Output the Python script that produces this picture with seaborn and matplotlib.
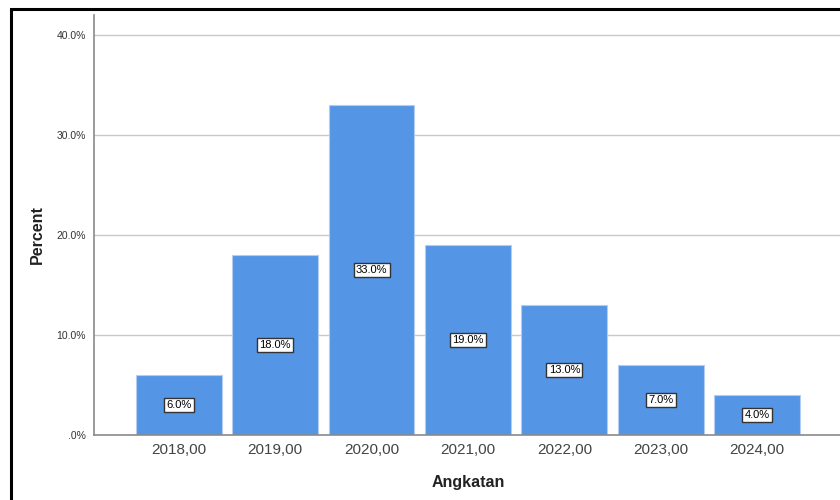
import matplotlib
matplotlib.use("Agg")
import matplotlib.pyplot as plt
import seaborn as sns
import pandas as pd
from matplotlib.patches import Rectangle
from matplotlib.ticker import FuncFormatter

# values
angkatan = ["2018,00", "2019,00", "2020,00", "2021,00", "2022,00", "2023,00", "2024,00"]
percent = [6.0, 18.0, 33.0, 19.0, 13.0, 7.0, 4.0]

df = pd.DataFrame({"Angkatan": angkatan, "Percent": percent})

sns.set_style("white")
plt.rcParams["font.family"] = ["Liberation Sans", "DejaVu Sans"]

fig = plt.figure(figsize=(8.4, 5.0), dpi=100)
ax = fig.add_axes([94 / 840, 1 - 435 / 500, 1 - 94 / 840, (435 - 15) / 500])

sns.barplot(data=df, x="Angkatan", y="Percent", color="#5595e5", saturation=1,
            width=0.89, edgecolor="#b3cdf0", linewidth=0.8, ax=ax, zorder=3)

ax.set_ylim(0, 42)
ax.set_xlim(-0.88, 6.86)
ax.set_yticks([0, 10, 20, 30, 40])
ax.yaxis.set_major_formatter(FuncFormatter(lambda v, p: ".0%" if v == 0 else f"{v:.1f}%"))
ax.grid(axis="y", color="#c8c8c8", linewidth=1, zorder=0)
ax.set_axisbelow(True)

for s in ["top", "right"]:
    ax.spines[s].set_visible(False)
for s in ["left", "bottom"]:
    ax.spines[s].set_color("#8a8a8a")
    ax.spines[s].set_linewidth(1.2)
    ax.spines[s].set_zorder(4)

ax.tick_params(axis="y", labelsize=7.5, labelcolor="#333333", length=0, pad=6)
ax.tick_params(axis="x", labelsize=11, labelcolor="#444444", length=0, pad=6)

for i, v in enumerate(percent):
    ax.text(i, v / 2, f"{v:.1f}%", ha="center", va="center", fontsize=8, color="black", zorder=5,
            bbox=dict(boxstyle="square,pad=0.2", facecolor="white", edgecolor="#333333", linewidth=1))

ax.set_xlabel("")
ax.set_ylabel("")
fig.text(468 / 840, 1 - 482 / 500, "Angkatan", ha="center", va="center",
         fontsize=11.5, fontweight="bold", color="#222222")
fig.text(37 / 840, 1 - 235 / 500, "Percent", ha="center", va="center", rotation=90,
         fontsize=11.5, fontweight="bold", color="#222222")

# outer frame (left and top edges visible)
fig.patches.append(Rectangle((11 / 840, -0.2), 2.0, 1.2 - 9 / 500, transform=fig.transFigure,
                             fill=False, edgecolor="black", linewidth=2.2, zorder=10))

fig.savefig("out.png", dpi=100)
